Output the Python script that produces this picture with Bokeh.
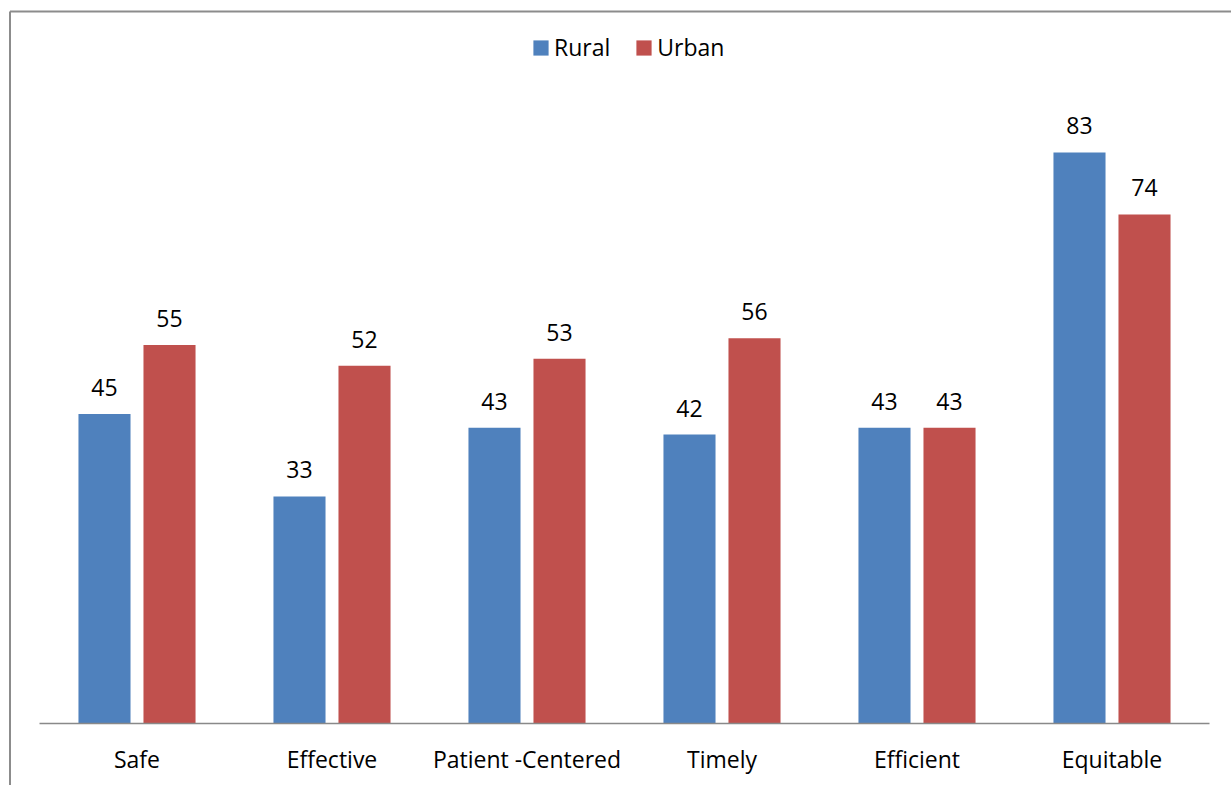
from bokeh.plotting import figure
from bokeh.models import (Range1d, LinearAxis, FixedTicker, ColumnDataSource,
                          LabelSet, Legend, LegendItem)
from bokeh.core.properties import value
from bokeh.embed import file_html
from bokeh.resources import INLINE

# --- data -------------------------------------------------------------
categories = ["Safe", "Effective", "Patient -Centered", "Timely", "Efficient", "Equitable"]
rural = [45, 33, 43, 42, 43, 83]
urban = [55, 52, 53, 56, 43, 74]

RURAL_COLOR = "#4F81BD"
URBAN_COLOR = "#C0504D"
FONT = "Open Sans"
FONT_SIZE = "23px"

# --- layout (pixels) --------------------------------------------------
W, H = 1231, 785
LEFT_PX = 39        # left end of the category axis
CAT_PX = 195        # width of one category slot
BASE_PX = 723       # baseline (value 0) from the top
UNIT_PX = 6.88      # pixels per value unit
OFFSET = 0.1667     # dodge of each bar from the category centre
BAR_W = 0.267

x_start = -0.5 - LEFT_PX / CAT_PX
x_end = x_start + W / CAT_PX
y_start = -(H - BASE_PX) / UNIT_PX
y_end = BASE_PX / UNIT_PX

p = figure(width=W, height=H, output_backend="svg", toolbar_location=None,
           x_range=Range1d(x_start, x_end), y_range=Range1d(y_start, y_end),
           x_axis_type=None, y_axis_type=None,
           min_border_left=0, min_border_right=0, min_border_top=0, min_border_bottom=0)
p.outline_line_color = None
p.background_fill_color = "white"
p.border_fill_color = "white"

xs = list(range(len(categories)))
src = ColumnDataSource(dict(
    xr=[x - OFFSET for x in xs], xu=[x + OFFSET for x in xs],
    rural=rural, urban=urban,
    rlab=[str(v) for v in rural], ulab=[str(v) for v in urban],
))

r_rural = p.vbar(x="xr", top="rural", bottom=0, width=BAR_W, source=src,
                 fill_color=RURAL_COLOR, line_color=None)
r_urban = p.vbar(x="xu", top="urban", bottom=0, width=BAR_W, source=src,
                 fill_color=URBAN_COLOR, line_color=None)

for xcol, ycol, tcol in (("xr", "rural", "rlab"), ("xu", "urban", "ulab")):
    p.add_layout(LabelSet(x=xcol, y=ycol, text=tcol, source=src,
                          text_align="center", text_baseline="alphabetic",
                          y_offset=18, text_font=value(FONT),
                          text_font_size=FONT_SIZE, text_color="black"))

# category axis sitting on the zero line
ax = LinearAxis(fixed_location=0, bounds=(-0.5, len(categories) - 0.5),
                ticker=FixedTicker(ticks=xs),
                major_label_overrides={i: c for i, c in enumerate(categories)})
ax.axis_line_color = "#898989"
ax.axis_line_width = 1.5
ax.major_tick_line_color = None
ax.minor_tick_line_color = None
ax.major_tick_in = 0
ax.major_tick_out = 0
ax.major_label_standoff = 19
ax.major_label_text_font = FONT
ax.major_label_text_font_size = FONT_SIZE
ax.major_label_text_color = "black"
p.add_layout(ax, "below")

# chart border (left and top edges)
bx = x_start + 9.5 / CAT_PX
by = y_end - 11 / UNIT_PX
p.segment(x0=[bx, bx], y0=[by, by], x1=[bx, x_end], y1=[y_start, by],
          line_color="#8c8c8c", line_width=2)

legend = Legend(items=[LegendItem(label="Rural", renderers=[r_rural]),
                       LegendItem(label="Urban", renderers=[r_urban])],
                orientation="horizontal", location=(531, 722))
legend.border_line_color = None
legend.background_fill_alpha = 0
legend.padding = 0
legend.margin = 0
legend.glyph_width = 19
legend.glyph_height = 19
legend.label_standoff = 4
legend.spacing = 24
legend.label_text_font = FONT
legend.label_text_font_size = FONT_SIZE
legend.label_text_color = "black"
p.add_layout(legend, "center")

open("out.html", "w").write(file_html(p, INLINE))
